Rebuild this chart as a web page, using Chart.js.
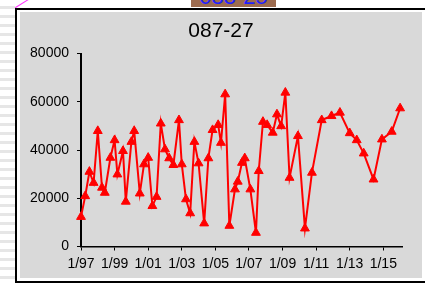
<!DOCTYPE html>
<html>
<head>
<meta charset="utf-8">
<script src="https://cdn.jsdelivr.net/npm/chart.js@4.4.1/dist/chart.umd.min.js"></script>
<style>
  html, body { margin: 0; padding: 0; width: 425px; height: 285px; overflow: hidden; background: #fff; position: relative; }
  .stripes {
    position: absolute; left: 0; top: 0; width: 15px; height: 285px;
    background: repeating-linear-gradient(to bottom, #fff 0px, #fff 6px, #e6e6e6 6px, #e6e6e6 9px);
  }
  .tag {
    position: absolute; left: 191px; top: -13px; width: 85px; height: 20px;
    background: #9c6b4f; color: #1f1fff; text-align: center; overflow: hidden;
    font: 22px "Liberation Sans", Arial, sans-serif; line-height: 20px;
  }
  .pink { position: absolute; left: 14px; top: 3px; width: 16px; height: 1px; background: #ff33ff; transform: rotate(-32deg); }
  .frame {
    position: absolute; left: 15px; top: 8px; width: 440px; height: 275px;
    box-sizing: border-box; border: 2px solid #000; border-right: none; background: #fff; padding: 2px 0 3px 3px;
  }
  .frame div { width: 402px; height: 100%; background: #d9d9d9; }
  canvas { position: absolute; left: 0; top: 0; }
</style>
</head>
<body>
<div class="stripes"></div>
<div class="tag">088-25</div>
<div class="pink"></div>
<div class="frame"><div></div></div>
<canvas id="chart" width="425" height="285"></canvas>
<script>
// данные графика 087-27
const titleText = "087-27";
const sampleDates = [
  "1997-01", "1997-04", "1997-07", "1997-10", "1998-01", "1998-04", "1998-06", "1998-10",
  "1999-01", "1999-03", "1999-07", "1999-09", "2000-01", "2000-03", "2000-07", "2000-10",
  "2001-01", "2001-04", "2001-07", "2001-10", "2002-01", "2002-04", "2002-07", "2002-11",
  "2003-01", "2003-04", "2003-07", "2003-10", "2004-01", "2004-05", "2004-08", "2004-11",
  "2005-03", "2005-05", "2005-08", "2005-11", "2006-03", "2006-05", "2006-08", "2006-10",
  "2007-02", "2007-06", "2007-08", "2007-11", "2008-02", "2008-06", "2008-09", "2008-12",
  "2009-03", "2009-06", "2009-12", "2010-05", "2010-10", "2011-05", "2011-12", "2012-06",
  "2013-01", "2013-06", "2013-11", "2014-06", "2014-12", "2015-07", "2016-01"
];
const flowValues = [
  12300, 20900, 31000, 26400, 47900, 24400, 22300, 36800,
  44100, 29900, 39600, 18600, 43400, 47900, 22000, 34100,
  36800, 16800, 20600, 51000, 40300, 36600, 33800, 52400,
  34100, 19600, 13800, 43400, 34500, 9600, 36600, 48300,
  50400, 43000, 63100, 8600, 23700, 26900, 34700, 36600,
  23700, 5700, 31300, 51700, 50400, 47200, 54800, 49900,
  63800, 28500, 45800, 7500, 30600, 52400, 54100, 55500,
  47000, 44100, 38600, 27800, 44400, 47600, 57300
];
const xTickYears = [1997, 1999, 2001, 2003, 2005, 2007, 2009, 2011, 2013, 2015];
const xTickLabels = ["1/97", "1/99", "1/01", "1/03", "1/05", "1/07", "1/09", "1/11", "1/13", "1/15"];
const yTickValues = [0, 20000, 40000, 60000, 80000];

function toYear(s) {
  const [y, m] = s.split("-").map(Number);
  return y + (m - 1) / 12;
}
const points = sampleDates.map((d, i) => ({ x: toYear(d), y: flowValues[i] }));

const fontFamily = '"Liberation Sans", Arial, sans-serif';

// заголовок рисуем сами, чтобы он был по центру всей рамки
const titlePlugin = {
  id: "excelTitle",
  afterDraw(chart) {
    const ctx = chart.ctx;
    ctx.save();
    ctx.font = "21px " + fontFamily;
    ctx.fillStyle = "#000";
    ctx.textAlign = "center";
    ctx.textBaseline = "middle";
    ctx.fillText(titleText, 221, 31);
    ctx.restore();
  }
};

new Chart(document.getElementById("chart"), {
  type: "line",
  data: {
    datasets: [{
      data: points,
      borderColor: "#ff0000",
      borderWidth: 2,
      backgroundColor: "#ff0000",
      pointStyle: "triangle",
      pointRadius: 5.1,
      pointBorderWidth: 1,
      pointBackgroundColor: "#ff0000",
      pointBorderColor: "#ff0000",
      tension: 0,
      clip: false
    }]
  },
  options: {
    responsive: false,
    animation: false,
    layout: { padding: { left: 20, top: 53.5, right: 22.7, bottom: 0 } },
    plugins: { legend: { display: false }, title: { display: false }, tooltip: { enabled: false } },
    scales: {
      x: {
        type: "linear",
        min: 1997,
        max: 2016.13,
        afterBuildTicks: axis => { axis.ticks = xTickYears.map(v => ({ value: v })); },
        afterFit: axis => { axis.height = 38.5; },
        grid: { drawOnChartArea: false, drawTicks: true, tickLength: 4, color: "#000", lineWidth: 1 },
        border: { display: true, color: "#000", width: 1.5 },
        ticks: {
          autoSkip: false, maxRotation: 0, padding: 5, color: "#000",
          font: { family: fontFamily, size: 14 },
          callback: (v, i) => xTickLabels[i]
        }
      },
      y: {
        min: 0,
        max: 80000,
        afterBuildTicks: axis => { axis.ticks = yTickValues.map(v => ({ value: v })); },
        afterFit: axis => { axis.width = 61; },
        grid: { drawOnChartArea: false, drawTicks: true, tickLength: 4, color: "#000", lineWidth: 1 },
        border: { display: true, color: "#000", width: 2 },
        ticks: {
          padding: 8, color: "#000",
          font: { family: fontFamily, size: 14 },
          callback: v => String(v)
        }
      }
    }
  },
  plugins: [titlePlugin]
});
</script>
</body>
</html>
